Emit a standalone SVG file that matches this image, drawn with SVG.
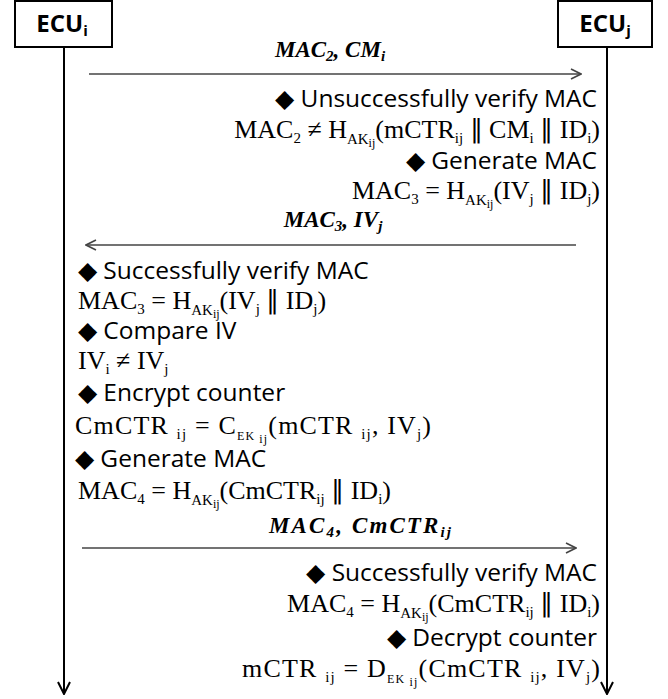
<svg xmlns="http://www.w3.org/2000/svg" width="668" height="699" viewBox="0 0 668 699">
<defs>
<style>
.box{fill:#fff;stroke:#000;stroke-width:2}
.ecu{font-family:"Open Sans","Liberation Sans",sans-serif;font-weight:bold;font-size:24px;fill:#000}
.life{stroke:#000;stroke-width:2;fill:none}
.msg{stroke:#444;stroke-width:1.6;fill:none}
.lbl{font-family:"Liberation Serif",serif;font-style:italic;font-weight:bold;font-size:23px;fill:#000}
.st{font-family:"Open Sans","Liberation Sans",sans-serif;font-size:24.5px;fill:#000}
.f{font-family:"Liberation Serif",serif;font-size:26px;fill:#000}
.s{font-size:15px}
.ss{font-size:12px}
.l{text-anchor:start}
.r{text-anchor:end}
.c{text-anchor:middle}
</style>
<marker id="ah" viewBox="0 0 12 12" refX="11" refY="6" markerWidth="12" markerHeight="12" markerUnits="userSpaceOnUse" orient="auto">
<path d="M1,1 L11,6 L1,11" fill="none" stroke="#444" stroke-width="1.6"/>
</marker>
<marker id="lh" viewBox="0 0 14 14" refX="13" refY="7" markerWidth="14" markerHeight="14" markerUnits="userSpaceOnUse" orient="auto">
<path d="M1,1 L13,7 L1,13" fill="none" stroke="#000" stroke-width="2"/>
</marker>
</defs>
<rect width="668" height="699" fill="#fff"/>

<g id="ecu-i">
<rect class="box" x="15" y="1" width="97" height="46"/>
<text class="ecu c" x="62" y="32">ECU<tspan font-size="15" dy="4">i</tspan></text>
</g>
<g id="ecu-j">
<rect class="box" x="558" y="1" width="94" height="46"/>
<text class="ecu c" x="605" y="32">ECU<tspan font-size="15" dy="4">j</tspan></text>
</g>

<g id="connectors">
<line class="life" x1="64" y1="47" x2="64" y2="694" marker-end="url(#lh)"/>
<line class="life" x1="607" y1="47" x2="607" y2="694" marker-end="url(#lh)"/>
<line class="msg" x1="89" y1="74" x2="581" y2="74" marker-end="url(#ah)"/>
<line class="msg" x1="576" y1="245" x2="86" y2="245" marker-end="url(#ah)"/>
<line class="msg" x1="82" y1="548" x2="576" y2="548" marker-end="url(#ah)"/>
</g>

<g id="labels">
<text class="lbl c" x="330" y="57">MAC<tspan class="s" dy="4">2</tspan><tspan dy="-4">, CM</tspan><tspan class="s" dy="4">i</tspan></text>
<text class="lbl c" x="333" y="227">MAC<tspan class="s" dy="4">3</tspan><tspan dy="-4">, IV</tspan><tspan class="s" dy="4">j</tspan></text>
<text class="lbl c" x="360" y="533" textLength="182" lengthAdjust="spacing">MAC<tspan class="s" dy="4">4</tspan><tspan dy="-4">, CmCTR</tspan><tspan class="s" dy="4">ij</tspan></text>
</g>

<g id="ecu-j-step1">
<text class="st r" x="597" y="107">◆ Unsuccessfully verify MAC</text>
<text class="f r" x="600" y="138">MAC<tspan class="s" dy="5">2</tspan><tspan dy="-5"> ≠ H</tspan><tspan class="s" dy="6">AK</tspan><tspan class="ss" dy="3">ij</tspan><tspan dy="-9">(mCTR</tspan><tspan class="s" dy="5">ij</tspan><tspan dy="-5"> ∥ CM</tspan><tspan class="s" dy="5">i</tspan><tspan dy="-5"> ∥ ID</tspan><tspan class="s" dy="5">i</tspan><tspan dy="-5">)</tspan></text>
<text class="st r" x="597" y="169">◆ Generate MAC</text>
<text class="f r" x="600" y="199">MAC<tspan class="s" dy="5">3</tspan><tspan dy="-5"> = H</tspan><tspan class="s" dy="6">AK</tspan><tspan class="ss" dy="3">ij</tspan><tspan dy="-9">(IV</tspan><tspan class="s" dy="5">j</tspan><tspan dy="-5"> ∥ ID</tspan><tspan class="s" dy="5">j</tspan><tspan dy="-5">)</tspan></text>
</g>

<g id="ecu-i-step">
<text class="st l" x="78" y="279">◆ Successfully verify MAC</text>
<text class="f l" x="78" y="309">MAC<tspan class="s" dy="5">3</tspan><tspan dy="-5"> = H</tspan><tspan class="s" dy="6">AK</tspan><tspan class="ss" dy="3">ij</tspan><tspan dy="-9">(IV</tspan><tspan class="s" dy="5">j</tspan><tspan dy="-5"> ∥ ID</tspan><tspan class="s" dy="5">j</tspan><tspan dy="-5">)</tspan></text>
<text class="st l" x="78" y="339">◆ Compare IV</text>
<text class="f l" x="78" y="369">IV<tspan class="s" dy="5">i</tspan><tspan dy="-5"> ≠ IV</tspan><tspan class="s" dy="5">j</tspan></text>
<text class="st l" x="78" y="401">◆ Encrypt counter</text>
<text class="f l" x="75" y="434" textLength="356" lengthAdjust="spacing">CmCTR <tspan class="s" dy="5">ij</tspan><tspan dy="-5"> = C</tspan><tspan class="ss" dy="6">EK</tspan><tspan class="ss" dy="3"> ij</tspan><tspan dy="-9">(mCTR </tspan><tspan class="s" dy="5">ij</tspan><tspan dy="-5">, IV</tspan><tspan class="s" dy="5">j</tspan><tspan dy="-5">)</tspan></text>
<text class="st l" x="75" y="467">◆ Generate MAC</text>
<text class="f l" x="78" y="499">MAC<tspan class="s" dy="5">4</tspan><tspan dy="-5"> = H</tspan><tspan class="s" dy="6">AK</tspan><tspan class="ss" dy="3">ij</tspan><tspan dy="-9">(CmCTR</tspan><tspan class="s" dy="5">ij</tspan><tspan dy="-5"> ∥ ID</tspan><tspan class="s" dy="5">i</tspan><tspan dy="-5">)</tspan></text>
</g>

<g id="ecu-j-step2">
<text class="st r" x="597" y="581">◆ Successfully verify MAC</text>
<text class="f r" x="600" y="612">MAC<tspan class="s" dy="5">4</tspan><tspan dy="-5"> = H</tspan><tspan class="s" dy="6">AK</tspan><tspan class="ss" dy="3">ij</tspan><tspan dy="-9">(CmCTR</tspan><tspan class="s" dy="5">ij</tspan><tspan dy="-5"> ∥ ID</tspan><tspan class="s" dy="5">i</tspan><tspan dy="-5">)</tspan></text>
<text class="st r" x="597" y="646">◆ Decrypt counter</text>
<text class="f r" x="600" y="677" textLength="358" lengthAdjust="spacing">mCTR <tspan class="s" dy="5">ij</tspan><tspan dy="-5"> = D</tspan><tspan class="ss" dy="6">EK</tspan><tspan class="ss" dy="3"> ij</tspan><tspan dy="-9">(CmCTR </tspan><tspan class="s" dy="5">ij</tspan><tspan dy="-5">, IV</tspan><tspan class="s" dy="5">j</tspan><tspan dy="-5">)</tspan></text>
</g>
</svg>
